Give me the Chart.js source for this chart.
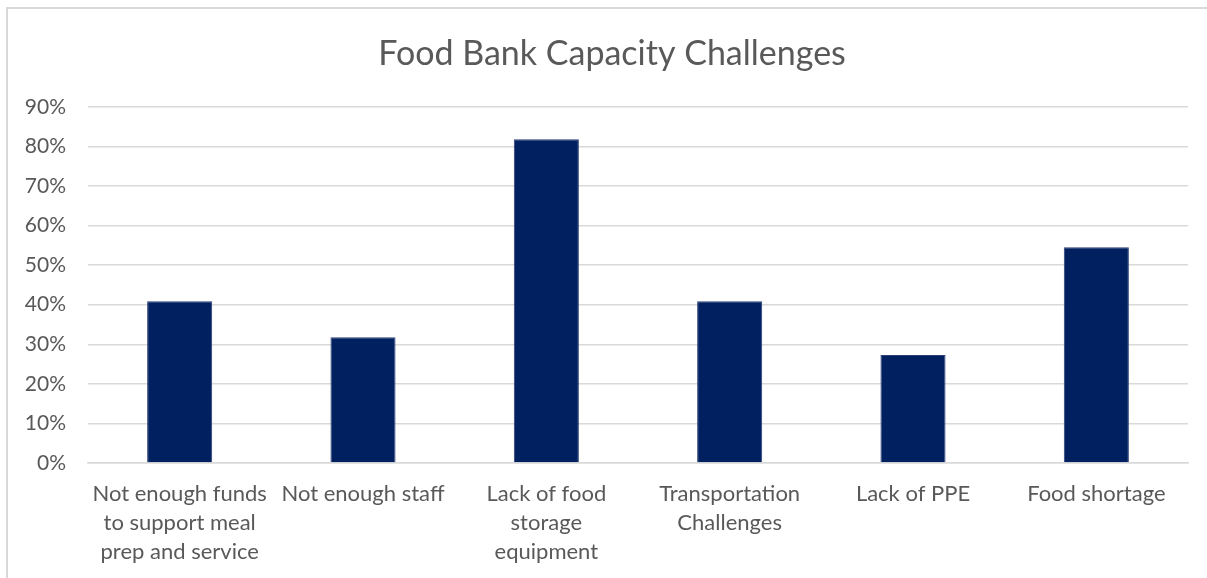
<!DOCTYPE html>
<html>
<head>
<meta charset="utf-8">
<title>Food Bank Capacity Challenges</title>
<script src="https://cdn.jsdelivr.net/npm/chart.js@4.4.1/dist/chart.umd.min.js"></script>
<style>
  html, body { margin: 0; padding: 0; background: #fff; overflow: hidden; }
  #wrap { position: relative; width: 1207px; height: 578px; }
  #frame {
    position: absolute; left: 6px; top: 7px; width: 1210px; height: 600px;
    border: 2px solid #d9d9d9; box-sizing: border-box; pointer-events: none;
  }
  canvas { position: absolute; left: 0; top: 0; }
</style>
</head>
<body>
<div id="wrap">
  <canvas id="chart" width="1207" height="578"></canvas>
  <div id="frame"></div>
</div>
<script>
// survey results, share of food banks reporting each challenge
const categories = [
  ["Not enough funds", "to support meal", "prep and service"],
  "Not enough staff",
  ["Lack of food", "storage", "equipment"],
  ["Transportation", "Challenges"],
  "Lack of PPE",
  "Food shortage"
];
const shares = [0.409, 0.318, 0.818, 0.409, 0.273, 0.545];
const yTicks = [0, 0.1, 0.2, 0.3, 0.4, 0.5, 0.6, 0.7, 0.8, 0.9];

const textColor = "#595959";
const gridColor = "#d9d9d9";

// nudge the title a little to the right of the canvas middle
const titleShift = {
  id: "titleShift",
  afterLayout(chart) {
    chart.titleBlock.left += 18;
    chart.titleBlock.right += 18;
  }
};

window.onload = function () {
  const ctx = document.getElementById("chart").getContext("2d");

  new Chart(ctx, {
    type: "bar",
    data: {
      labels: categories,
      datasets: [{
        data: shares,
        backgroundColor: "#002060",
        borderColor: "#2b3f78",
        borderWidth: 1,
        barPercentage: 0.355,
        categoryPercentage: 1
      }]
    },
    options: {
      responsive: false,
      animation: false,
      layout: { padding: { left: 0, right: 19, top: 0, bottom: 0 } },
      plugins: {
        legend: { display: false },
        tooltip: { enabled: false },
        title: {
          display: true,
          text: "Food Bank Capacity Challenges",
          color: textColor,
          font: { family: "Lato", size: 34, weight: "normal" },
          padding: { top: 34, bottom: 32 }
        }
      },
      scales: {
        x: {
          grid: { display: false, drawTicks: false },
          border: { color: gridColor, width: 1.5 },
          ticks: {
            color: textColor,
            font: { family: "Lato", size: 22, lineHeight: 1.32 },
            padding: 16,
            maxRotation: 0,
            autoSkip: false
          },
          afterFit: function (scale) { scale.height = 115; }
        },
        y: {
          min: 0,
          max: 0.9,
          afterBuildTicks: function (scale) {
            scale.ticks = yTicks.map(v => ({ value: v }));
          },
          grid: { color: gridColor, lineWidth: 1.5, drawTicks: false },
          border: { display: false },
          ticks: {
            color: textColor,
            font: { family: "Lato", size: 21 },
            padding: 22,
            callback: v => Math.round(v * 100) + "%"
          },
          afterFit: function (scale) { scale.width = 88; }
        }
      }
    },
    plugins: [titleShift]
  });
};
</script>
</body>
</html>
